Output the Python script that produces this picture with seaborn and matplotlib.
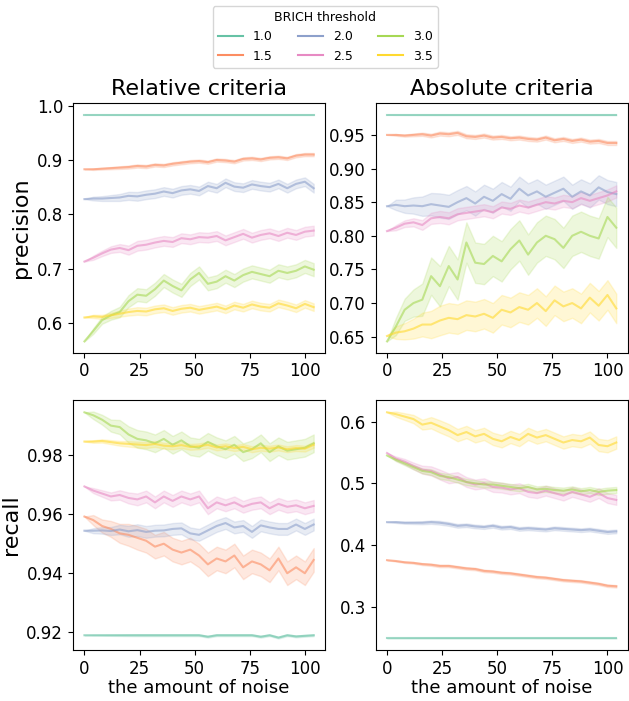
import pandas as pd
import seaborn as sns
import matplotlib.pyplot as plt
from matplotlib.lines import Line2D
from matplotlib.ticker import MultipleLocator

# noise levels (x axis), sampled every 4 units
noise = list(range(0, 105, 4))
thresholds = ["1.0", "1.5", "2.0", "2.5", "3.0", "3.5"]

# ---- precision, relative criteria ----
p_rel_10 = [0.9835] * 27
p_rel_15 = [0.883, 0.883, 0.884, 0.885, 0.886, 0.887, 0.889, 0.888, 0.891, 0.890, 0.893, 0.895, 0.897, 0.898,
            0.896, 0.900, 0.899, 0.897, 0.902, 0.903, 0.901, 0.904, 0.905, 0.903, 0.908, 0.910, 0.910]
p_rel_20 = [0.828, 0.829, 0.829, 0.830, 0.831, 0.834, 0.833, 0.836, 0.838, 0.842, 0.839, 0.844, 0.846, 0.843,
            0.852, 0.848, 0.858, 0.851, 0.849, 0.855, 0.852, 0.850, 0.856, 0.848, 0.856, 0.860, 0.848]
p_rel_25 = [0.713, 0.720, 0.728, 0.735, 0.738, 0.734, 0.742, 0.744, 0.748, 0.751, 0.749, 0.756, 0.754, 0.758,
            0.757, 0.760, 0.752, 0.758, 0.764, 0.757, 0.762, 0.765, 0.760, 0.766, 0.762, 0.768, 0.770]
p_rel_30 = [0.566, 0.585, 0.605, 0.614, 0.620, 0.640, 0.652, 0.650, 0.662, 0.678, 0.668, 0.660, 0.680, 0.692,
            0.672, 0.676, 0.686, 0.678, 0.688, 0.694, 0.690, 0.686, 0.696, 0.692, 0.696, 0.704, 0.698]
p_rel_35 = [0.610, 0.612, 0.611, 0.614, 0.617, 0.620, 0.622, 0.621, 0.625, 0.627, 0.622, 0.626, 0.628, 0.624,
            0.627, 0.630, 0.625, 0.632, 0.628, 0.634, 0.630, 0.628, 0.636, 0.632, 0.627, 0.635, 0.629]

# ---- precision, absolute criteria ----
p_abs_10 = [0.980] * 27
p_abs_15 = [0.950, 0.950, 0.949, 0.950, 0.951, 0.949, 0.952, 0.951, 0.953, 0.948, 0.947, 0.949, 0.946, 0.947,
            0.945, 0.946, 0.944, 0.943, 0.946, 0.942, 0.944, 0.941, 0.943, 0.940, 0.941, 0.938, 0.938]
p_abs_20 = [0.844, 0.846, 0.844, 0.845, 0.844, 0.847, 0.845, 0.843, 0.850, 0.856, 0.848, 0.858, 0.852, 0.862,
            0.855, 0.870, 0.860, 0.866, 0.858, 0.864, 0.870, 0.858, 0.866, 0.860, 0.872, 0.865, 0.862]
p_abs_25 = [0.807, 0.812, 0.818, 0.820, 0.816, 0.826, 0.828, 0.826, 0.832, 0.834, 0.836, 0.838, 0.835, 0.842,
            0.840, 0.845, 0.842, 0.846, 0.850, 0.848, 0.852, 0.850, 0.856, 0.852, 0.856, 0.860, 0.866]
p_abs_30 = [0.643, 0.665, 0.690, 0.700, 0.705, 0.740, 0.725, 0.755, 0.735, 0.790, 0.760, 0.758, 0.770, 0.762,
            0.780, 0.793, 0.772, 0.790, 0.800, 0.795, 0.782, 0.800, 0.806, 0.800, 0.796, 0.828, 0.812]
p_abs_35 = [0.651, 0.656, 0.658, 0.662, 0.668, 0.668, 0.674, 0.678, 0.676, 0.682, 0.680, 0.684, 0.678, 0.690,
            0.686, 0.694, 0.690, 0.700, 0.688, 0.704, 0.695, 0.700, 0.692, 0.708, 0.696, 0.712, 0.692]

# ---- recall, relative criteria ----
r_rel_10 = [0.919, 0.919, 0.919, 0.919, 0.919, 0.919, 0.919, 0.919, 0.919, 0.919, 0.919, 0.919, 0.919, 0.919,
            0.9185, 0.919, 0.919, 0.919, 0.919, 0.919, 0.9185, 0.919, 0.9182, 0.919, 0.9186, 0.9188, 0.919]
r_rel_15 = [0.9592, 0.958, 0.956, 0.955, 0.9535, 0.953, 0.952, 0.951, 0.949, 0.950, 0.948, 0.947, 0.948, 0.946,
            0.943, 0.945, 0.944, 0.946, 0.942, 0.944, 0.943, 0.941, 0.945, 0.940, 0.942, 0.940, 0.9445]
r_rel_20 = [0.9544, 0.9544, 0.9545, 0.9543, 0.9548, 0.9542, 0.9546, 0.9540, 0.9544, 0.9545, 0.955, 0.9552, 0.9535,
            0.9530, 0.9545, 0.956, 0.957, 0.9555, 0.956, 0.954, 0.9562, 0.9555, 0.955, 0.955, 0.9565, 0.955, 0.9565]
r_rel_25 = [0.9694, 0.968, 0.967, 0.966, 0.9665, 0.9655, 0.965, 0.966, 0.964, 0.966, 0.9645, 0.966, 0.965, 0.966,
            0.962, 0.964, 0.963, 0.964, 0.9625, 0.9635, 0.964, 0.962, 0.9635, 0.9625, 0.963, 0.962, 0.9628]
r_rel_30 = [0.9945, 0.9935, 0.992, 0.990, 0.9895, 0.987, 0.9855, 0.985, 0.984, 0.9855, 0.9835, 0.985, 0.983,
            0.9825, 0.9845, 0.983, 0.982, 0.9835, 0.981, 0.982, 0.984, 0.981, 0.983, 0.9815, 0.982, 0.9825, 0.984]
r_rel_35 = [0.9846, 0.9846, 0.9848, 0.9844, 0.9840, 0.9838, 0.9836, 0.9834, 0.9838, 0.9832, 0.983, 0.9834, 0.9828,
            0.983, 0.9835, 0.9826, 0.9830, 0.9824, 0.9828, 0.982, 0.9825, 0.9822, 0.9826, 0.982, 0.9824, 0.9822, 0.9835]

# ---- recall, absolute criteria ----
r_abs_10 = [0.249] * 27
r_abs_15 = [0.3754, 0.374, 0.372, 0.371, 0.369, 0.368, 0.366, 0.366, 0.364, 0.362, 0.361, 0.358, 0.357, 0.355,
            0.354, 0.352, 0.350, 0.348, 0.347, 0.345, 0.343, 0.342, 0.341, 0.339, 0.337, 0.334, 0.333]
r_abs_20 = [0.437, 0.437, 0.436, 0.436, 0.436, 0.437, 0.436, 0.434, 0.431, 0.432, 0.430, 0.429, 0.431, 0.428,
            0.429, 0.426, 0.427, 0.426, 0.425, 0.427, 0.426, 0.425, 0.424, 0.425, 0.423, 0.421, 0.422]
r_abs_25 = [0.549, 0.540, 0.535, 0.528, 0.522, 0.520, 0.514, 0.508, 0.510, 0.502, 0.498, 0.500, 0.494, 0.493,
            0.490, 0.492, 0.486, 0.484, 0.488, 0.484, 0.480, 0.486, 0.482, 0.478, 0.484, 0.476, 0.473]
r_abs_30 = [0.545, 0.538, 0.532, 0.526, 0.520, 0.518, 0.512, 0.510, 0.506, 0.502, 0.500, 0.498, 0.498, 0.496,
            0.494, 0.492, 0.494, 0.490, 0.491, 0.489, 0.488, 0.490, 0.487, 0.489, 0.486, 0.488, 0.489]
r_abs_35 = [0.615, 0.612, 0.608, 0.604, 0.595, 0.598, 0.592, 0.586, 0.578, 0.583, 0.576, 0.580, 0.572, 0.568,
            0.575, 0.570, 0.580, 0.574, 0.578, 0.572, 0.566, 0.570, 0.568, 0.574, 0.562, 0.560, 0.566]

# half-width of the shaded band per panel, one value per threshold
band_p_rel = [0.0005, 0.003, 0.008, 0.009, 0.012, 0.007]
band_p_abs = [0.0005, 0.003, 0.018, 0.009, 0.030, 0.022]
band_r_rel = [0.0003, 0.004, 0.002, 0.002, 0.003, 0.001]
band_r_abs = [0.0005, 0.002, 0.003, 0.008, 0.005, 0.010]

# y tick step for each panel
y_steps = [0.1, 0.05, 0.02, 0.1]

panels = [
    ("precision", "Relative criteria", [p_rel_10, p_rel_15, p_rel_20, p_rel_25, p_rel_30, p_rel_35], band_p_rel),
    ("precision", "Absolute criteria", [p_abs_10, p_abs_15, p_abs_20, p_abs_25, p_abs_30, p_abs_35], band_p_abs),
    ("recall", "Relative criteria", [r_rel_10, r_rel_15, r_rel_20, r_rel_25, r_rel_30, r_rel_35], band_r_rel),
    ("recall", "Absolute criteria", [r_abs_10, r_abs_15, r_abs_20, r_abs_25, r_abs_30, r_abs_35], band_r_abs),
]


def build_frame(series, bands):
    # band grows from zero at no noise to the full width
    rows = []
    for th, vals, b in zip(thresholds, series, bands):
        for i, (x, v) in enumerate(zip(noise, vals)):
            w = b * min(1.0, 0.3 + i / 8) if i > 0 else 0.0
            rows.append((x, v - w, th))
            rows.append((x, v + w, th))
    return pd.DataFrame(rows, columns=["noise", "value", "threshold"])


palette = sns.color_palette("Set2", 6)

fig, axes = plt.subplots(2, 2, figsize=(6.29, 7.01), dpi=100)
fig.subplots_adjust(left=0.116, right=0.998, top=0.853, bottom=0.073, wspace=0.2, hspace=0.19)

for ax, (metric, title, series, bands), step in zip(axes.flat, panels, y_steps):
    df = build_frame(series, bands)
    sns.lineplot(data=df, x="noise", y="value", hue="threshold", hue_order=thresholds,
                 palette=palette, errorbar=lambda v: (v.min(), v.max()),
                 alpha=0.6, linewidth=1.5, legend=False, ax=ax)
    ax.set_xlabel("")
    ax.set_ylabel("")
    ax.set_xticks([0, 25, 50, 75, 100])
    ax.yaxis.set_major_locator(MultipleLocator(step))
    ax.tick_params(labelsize=12)

axes[0, 0].set_title("Relative criteria", fontsize=16)
axes[0, 1].set_title("Absolute criteria", fontsize=16)
axes[0, 0].set_ylabel("precision", fontsize=16)
axes[1, 0].set_ylabel("recall", fontsize=16)
axes[1, 0].set_xlabel("the amount of noise", fontsize=13, labelpad=1)
axes[1, 1].set_xlabel("the amount of noise", fontsize=13, labelpad=1)

handles = [Line2D([0], [0], color=c, lw=1.5) for c in palette]
fig.legend(handles, thresholds, title="BRICH threshold", ncol=3, loc="upper center",
           bbox_to_anchor=(0.517, 1.0), fontsize=9, title_fontsize=9)

plt.savefig("out.png", dpi=100)
